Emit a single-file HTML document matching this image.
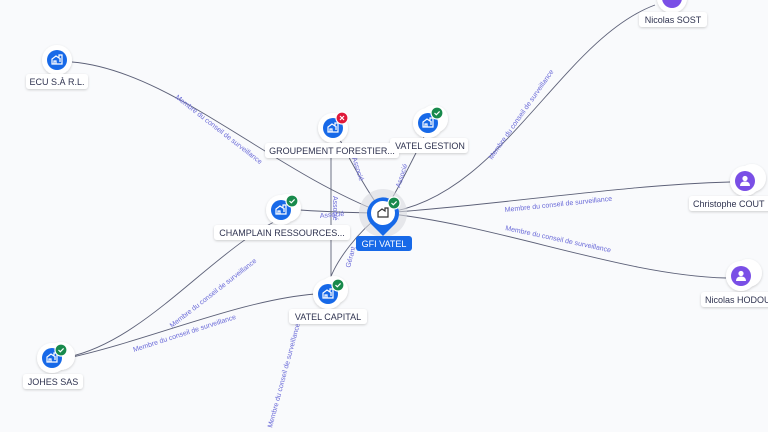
<!DOCTYPE html>
<html><head><meta charset="utf-8"><style>
html,body{margin:0;padding:0;background:#f9fafc;}
svg{display:block;font-family:"Liberation Sans",sans-serif;}
.lbl{font-size:9px;fill:#2f3350;}
.el{font-size:7px;fill:#6a6ad8;}
</style></head><body>
<svg width="768" height="432" viewBox="0 0 768 432">
<defs>
<filter id="sh" x="-50%" y="-50%" width="200%" height="200%"><feDropShadow dx="0" dy="1" stdDeviation="1.2" flood-color="#000" flood-opacity="0.18"/></filter>
<g id="bld"><path d="M-5,4 V-1 L-1,-4 L2,-2 V-5 H5 V4 Z M-3,4 V1 H-1 V4 M2,-1 H4 M2,1 H4" fill="none" stroke="#fff" stroke-width="1.2"/></g>
<g id="per"><circle cx="0" cy="-2.5" r="2.6" fill="#fff"/><path d="M-5,5 Q-5,0.5 0,0.5 Q5,0.5 5,5 Z" fill="#fff"/></g>
<g id="ok"><circle r="6" fill="#188a4c" stroke="#fff" stroke-width="1.2"/><path d="M-2.5,0 L-0.7,1.8 L2.6,-1.6" fill="none" stroke="#fff" stroke-width="1.2"/></g>
<g id="ko"><circle r="6" fill="#e0193a" stroke="#fff" stroke-width="1.2"/><path d="M-2,-2 L2,2 M2,-2 L-2,2" stroke="#fff" stroke-width="1.2"/></g>
</defs>
<g fill="none" stroke="#5d6178" stroke-width="0.9">
<path d="M72,62 C170,70 270,170 383,213"/>
<path d="M300,210 C330,212 360,213 383,213"/>
<path d="M340,140 C355,170 370,195 383,213"/>
<path d="M425,135 C410,165 395,195 383,213"/>
<path d="M331,150 L331,285"/>
<path d="M383,213 C360,230 335,260 328,285"/>
<path d="M383,213 C500,200 560,40 655,5"/>
<path d="M383,213 C500,205 620,185 730,182"/>
<path d="M383,213 C500,225 620,275 726,278"/>
<path d="M68,357 C150,340 220,240 290,215"/>
<path d="M68,358 C150,340 240,300 315,294"/>
</g>
<g class="el">
<text transform="translate(175,98) rotate(38)">Membre du conseil de surveillance</text>
<text transform="translate(320,218) rotate(-5)">Associé</text>
<text transform="translate(352,158) rotate(72)">Associé</text>
<text transform="translate(400,188) rotate(-72)">Associé</text>
<text transform="translate(333,196) rotate(90)">Associé</text>
<text transform="translate(350,268) rotate(-75)">Gérant</text>
<text transform="translate(492,160) rotate(-55)">Membre du conseil de surveillance</text>
<text transform="translate(505,212) rotate(-6)">Membre du conseil de surveillance</text>
<text transform="translate(505,230) rotate(12)">Membre du conseil de surveillance</text>
<text transform="translate(172,328) rotate(-38)">Membre du conseil de surveillance</text>
<text transform="translate(134,352) rotate(-18)">Membre du conseil de surveillance</text>
<text transform="translate(272,428) rotate(-75)">Membre du conseil de surveillance</text>
</g>
<!-- nodes -->
<g filter="url(#sh)">
<circle cx="61" cy="356" r="14" fill="#fff"/>
<circle cx="57" cy="60" r="15" fill="#fff"/>
<circle cx="333" cy="128" r="15" fill="#fff"/>
<circle cx="434" cy="119" r="14" fill="#fff"/><circle cx="428" cy="123" r="15" fill="#fff"/>
<circle cx="287" cy="208" r="14" fill="#fff"/><circle cx="281" cy="210" r="15" fill="#fff"/>
<circle cx="334" cy="290" r="14" fill="#fff"/><circle cx="328" cy="294" r="15" fill="#fff"/>
<circle cx="52" cy="358" r="15" fill="#fff"/>
<circle cx="752" cy="178" r="14" fill="#fff"/><circle cx="745" cy="181" r="15" fill="#fff"/>
<circle cx="748" cy="273" r="14" fill="#fff"/><circle cx="741" cy="276" r="15" fill="#fff"/>
<circle cx="672" cy="-2" r="15" fill="#fff"/>
</g>
<circle cx="57" cy="60" r="10" fill="#1769e8"/><use href="#bld" x="57" y="60"/>
<circle cx="333" cy="128" r="10" fill="#1769e8"/><use href="#bld" x="333" y="128"/><use href="#ko" x="342" y="118"/>
<circle cx="428" cy="123" r="10" fill="#1769e8"/><use href="#bld" x="428" y="123"/><use href="#ok" x="437" y="113"/>
<circle cx="281" cy="210" r="10" fill="#1769e8"/><use href="#bld" x="281" y="210"/><use href="#ok" x="292" y="201"/>
<circle cx="328" cy="294" r="10" fill="#1769e8"/><use href="#bld" x="328" y="294"/><use href="#ok" x="338" y="285"/>
<circle cx="52" cy="358" r="10" fill="#1769e8"/><use href="#bld" x="52" y="358"/><use href="#ok" x="61" y="350"/>
<circle cx="745" cy="181" r="10" fill="#7a4fe6"/><use href="#per" x="745" y="181"/>
<circle cx="741" cy="276" r="10" fill="#7a4fe6"/><use href="#per" x="741" y="276"/>
<circle cx="672" cy="-2" r="10" fill="#7a4fe6"/>
<!-- GFI pin -->
<circle cx="383" cy="213" r="24" fill="#d8dae0" opacity="0.6"/>
<path d="M383,236 L371,224 A16,16 0 1 1 395,224 Z" fill="#1769e8"/>
<circle cx="383" cy="213" r="12" fill="#fff"/>
<use href="#bld" x="383" y="213" style="stroke:#333"/>
<path d="M378,217 V212 L382,209 L385,211 V208 H388 V217 Z" fill="none" stroke="#333" stroke-width="1.2"/>
<use href="#ok" x="394" y="203"/>
<!-- labels -->
<g filter="url(#sh)" fill="#fff">
<rect x="26" y="74" width="62" height="15" rx="3"/>
<rect x="265" y="143" width="134" height="15" rx="3"/>
<rect x="390" y="138" width="78" height="15" rx="3"/>
<rect x="214" y="225" width="136" height="15" rx="3"/>
<rect x="289" y="309" width="78" height="15" rx="3"/>
<rect x="23" y="374" width="60" height="15" rx="3"/>
<rect x="639" y="12" width="68" height="15" rx="3"/>
<rect x="689" y="196" width="90" height="15" rx="3"/>
<rect x="701" y="292" width="80" height="15" rx="3"/>
</g>
<rect x="356" y="236" width="56" height="15" rx="3" fill="#1769e8"/>
<g class="lbl" text-anchor="middle">
<text x="57" y="85">ECU S.À R.L.</text>
<text x="332" y="154">GROUPEMENT FORESTIER...</text>
<text x="430" y="149">VATEL GESTION</text>
<text x="282" y="236">CHAMPLAIN RESSOURCES...</text>
<text x="328" y="320">VATEL CAPITAL</text>
<text x="53" y="385">JOHES SAS</text>
<text x="673" y="23">Nicolas SOST</text>
<text x="693" y="207" text-anchor="start">Christophe COUT</text>
<text x="705" y="303" text-anchor="start">Nicolas HODOU</text>
<text x="384" y="247" style="fill:#fff">GFI VATEL</text>
</g>
</svg>
</body></html>
